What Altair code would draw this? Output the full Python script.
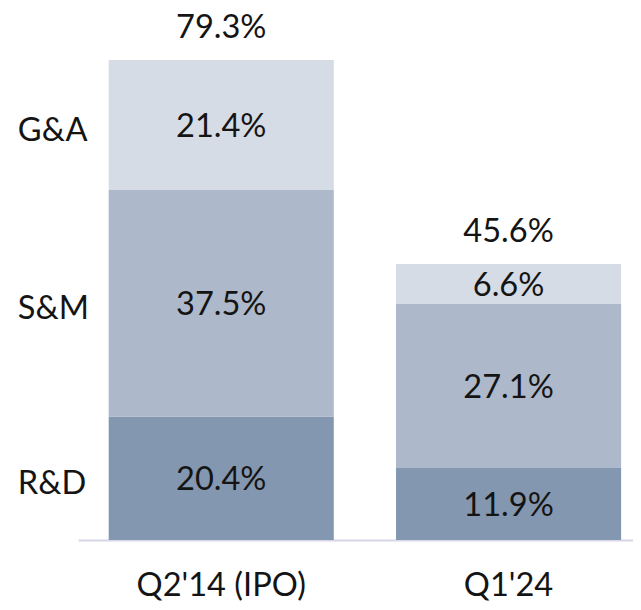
import altair as alt
import pandas as pd

categories = ["Q2'14 (IPO)", "Q1'24"]
segments = ["R&D", "S&M", "G&A"]
rd_values = [20.4, 11.9]
sm_values = [37.5, 27.1]
ga_values = [21.4, 6.6]
seg_colors = ["#8497b0", "#adb9ca", "#d6dce5"]

rows = []
for i, c in enumerate(categories):
    for j, (s, vals) in enumerate(zip(segments, [rd_values, sm_values, ga_values])):
        rows.append({"cat": c, "seg": s, "value": vals[i], "ord": j})
df = pd.DataFrame(rows)

FONT = "Lato"
TXT = "#141414"
FS = 33

xscale = alt.Scale(domain=categories, paddingInner=0.2165, paddingOuter=0.0739, align=0.72)
yscale = alt.Scale(domain=[0, 86.3], nice=False, zero=True)

base = alt.Chart(df).transform_stack(
    stack="value", groupby=["cat"], as_=["y0", "y1"], sort=[alt.SortField("ord", order="ascending")]
).transform_calculate(
    mid="(datum.y0 + datum.y1) / 2",
    lbl="format(datum.value, '.1f') + '%'"
)

bars = base.mark_bar().encode(
    x=alt.X("cat:N", scale=xscale, sort=categories,
            axis=alt.Axis(title=None, labelAngle=0, ticks=False, labelFont=FONT, labelFontSize=FS,
                          labelColor=TXT, labelPadding=46, labelBaseline="middle",
                          domainColor="#d6d6e6", domainWidth=2, grid=False)),
    y=alt.Y("y0:Q", scale=yscale, axis=None),
    y2="y1:Q",
    color=alt.Color("seg:N", scale=alt.Scale(domain=segments, range=seg_colors), legend=None),
)

seg_text = base.mark_text(font=FONT, fontSize=FS, color=TXT, baseline="middle", dy=2).encode(
    x=alt.X("cat:N", scale=xscale, sort=categories),
    y=alt.Y("mid:Q", scale=yscale),
    text="lbl:N",
)

side_labels = base.transform_filter(
    alt.datum.cat == categories[0]
).mark_text(font=FONT, fontSize=FS, color=TXT, align="left", baseline="middle", dy=6).encode(
    x=alt.value(-61),
    y=alt.Y("mid:Q", scale=yscale),
    text="seg:N",
)

totals = alt.Chart(df).transform_aggregate(
    total="sum(value)", groupby=["cat"]
).transform_calculate(
    lbl="format(datum.total, '.1f') + '%'"
).mark_text(font=FONT, fontSize=FS, color=TXT, baseline="alphabetic", dy=-22).encode(
    x=alt.X("cat:N", scale=xscale, sort=categories),
    y=alt.Y("total:Q", scale=yscale),
    text="lbl:N",
)

chart = alt.layer(bars, seg_text, side_labels, totals).properties(
    width=562, height=529,
    padding={"left": 71, "top": 6, "right": 0, "bottom": 66},
    autosize=alt.AutoSizeParams(type="none"),
).configure_view(stroke=None)

chart.save("out.html", embed_options={"renderer": "svg", "actions": False})
